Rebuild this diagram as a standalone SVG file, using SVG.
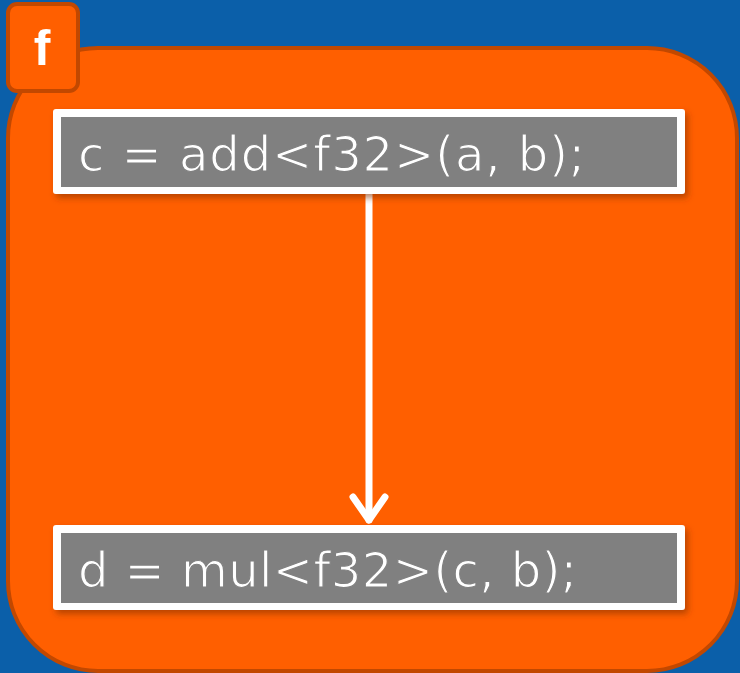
<svg xmlns="http://www.w3.org/2000/svg" width="740" height="673" viewBox="0 0 740 673">
  <style>
    .frame { fill: #FF5F00; stroke: #C24800; stroke-width: 4; }
    .stmt-outer { fill: #FFFFFF; }
    .stmt-inner { fill: #808080; }
    /* thin the glyphs slightly by painting a grey edge over them */
    .stmt-text { font-family: "DejaVu Sans", Verdana, sans-serif; font-size: 48px; fill: #FFFFFF; stroke: #808080; stroke-width: 1.2; }
    .tab-text { font-family: "Liberation Sans", Arial, sans-serif; font-weight: bold; font-size: 50px; fill: #FFFFFF; }
    .edge { stroke: #FFFFFF; stroke-width: 7; fill: none; stroke-linecap: round; stroke-linejoin: round; }
  </style>
  <defs>
    <filter id="shadow" x="-5%" y="-20%" width="115%" height="150%">
      <feDropShadow dx="3" dy="4" stdDeviation="3" flood-color="#8A3000" flood-opacity="0.6"/>
    </filter>
  </defs>

  <!-- background -->
  <rect x="0" y="0" width="740" height="673" fill="#0B5FA9"/>

  <!-- function body -->
  <g id="func-f">
    <rect class="frame" x="8" y="48" width="729" height="623" rx="90" ry="90"/>
  </g>

  <!-- function label tab -->
  <g id="tab-f">
    <rect class="frame" x="8" y="4" width="70" height="87" rx="9" ry="9"/>
    <text class="tab-text" x="42" y="65" text-anchor="middle">f</text>
  </g>

  <!-- connectors -->
  <g id="connectors">
    <line class="edge" x1="369" y1="194" x2="369" y2="520"/>
    <path class="edge" d="M353 497 L369 520 L385 497"/>
  </g>

  <!-- statement nodes -->
  <g id="stmt-add" filter="url(#shadow)">
    <rect class="stmt-outer" x="53" y="109" width="632" height="85" rx="3"/>
    <rect class="stmt-inner" x="61" y="117" width="616" height="70"/>
    <text class="stmt-text" x="78" y="171" textLength="507" lengthAdjust="spacing">c = add&lt;f32&gt;(a,  b);</text>
  </g>

  <g id="stmt-mul" filter="url(#shadow)">
    <rect class="stmt-outer" x="53" y="525" width="632" height="85" rx="3"/>
    <rect class="stmt-inner" x="61" y="533" width="616" height="70"/>
    <text class="stmt-text" x="78" y="587" textLength="499" lengthAdjust="spacing">d = mul&lt;f32&gt;(c, b);</text>
  </g>
</svg>
